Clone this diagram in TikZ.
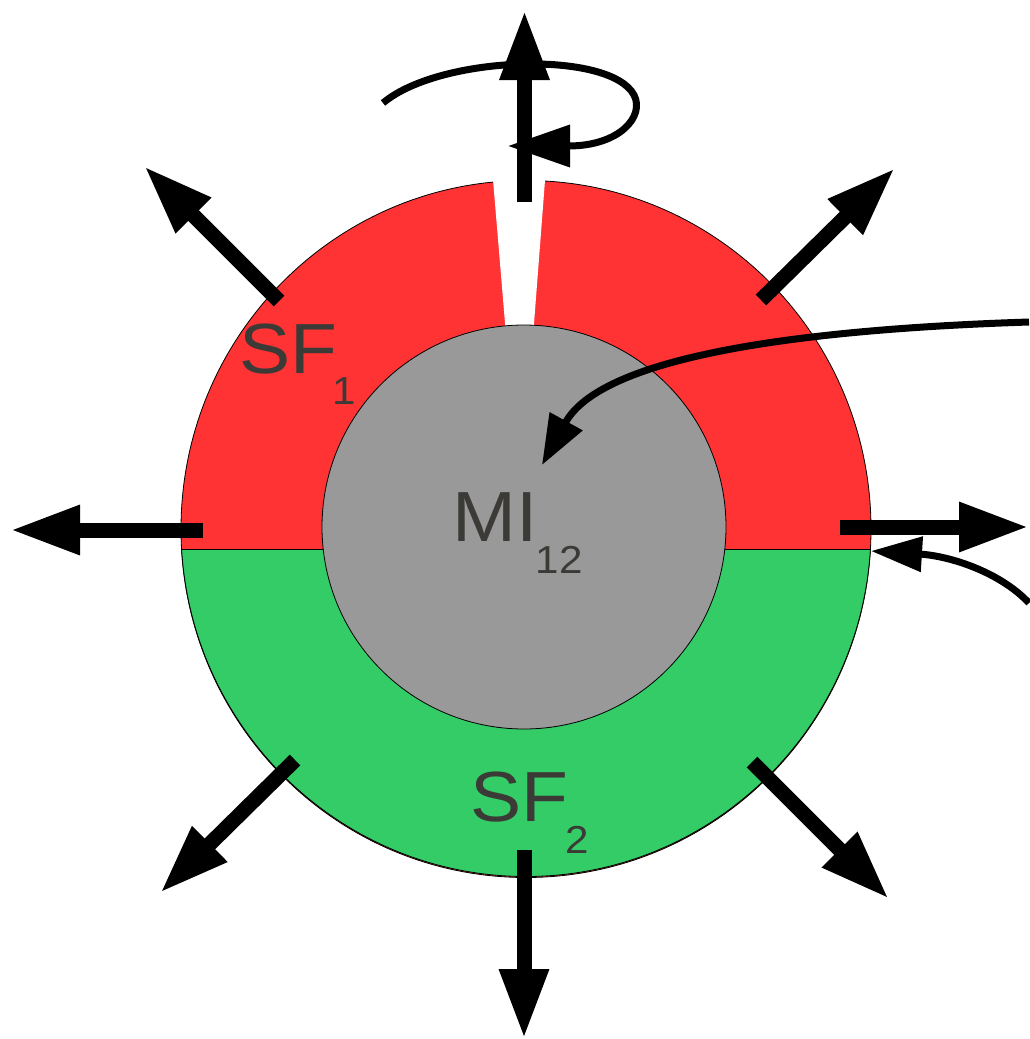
\documentclass[tikz,border=0pt]{standalone}
\usepackage{fontspec}
\setmainfont{Liberation Sans}
\usepackage{graphicx}
\usetikzlibrary{arrows.meta}
\definecolor{ringred}{HTML}{FF3333}
\definecolor{ringgreen}{HTML}{33CC66}
\definecolor{coregray}{HTML}{999999}
\definecolor{labelgray}{HTML}{3B3A36}
\newcommand{\biglbl}[1]{\scalebox{1.08}[1]{\fontsize{71}{71}\selectfont #1}}
\newcommand{\sublbl}[1]{\scalebox{1.08}[1]{\fontsize{39}{39}\selectfont #1}}
\begin{document}
\begin{tikzpicture}[x=1pt,y=-1pt,
  bigarrow/.style={line width=15pt, -{Triangle[length=70pt,width=46pt]}},
  curvearrow/.style={line width=7pt, -{Triangle[length=50pt,width=36pt]}},
  rotarrow/.style={line width=7pt, -{Triangle[length=62pt,width=41pt]}},
  lbl/.style={anchor=base west, inner sep=0pt, text=labelgray},
  thinline/.style={draw=black, line width=0.8pt}
]
\useasboundingbox (0,0) rectangle (1029,1039);
% ring
\fill[ringred, thinline] (526,529) ellipse[x radius=345, y radius=348.5];
\begin{scope}
  \clip (0,549.5) rectangle (1029,1039);
  \fill[ringgreen, thinline] (526,528) ellipse[x radius=345, y radius=348.5];
\end{scope}
\draw[thinline] (181.6,549.5) -- (870.4,549.5);
% gap in the red ring
\fill[white] (492.2,170) -- (545.8,170) -- (533.5,330) -- (505.6,330) -- cycle;
% core
\node[circle, fill=coregray, thinline, minimum size=404pt, inner sep=0pt] (core) at (524,527) {};
% labels
\node[lbl] (sf1) at (239,373) {\biglbl{SF}};
\node[lbl] (sf1sub) at (332,404) {\sublbl{1}};
\node[lbl] (mi) at (452.5,541) {\biglbl{MI}};
\node[lbl] (misub) at (535.5,573) {\sublbl{12}};
\node[lbl] (sf2) at (470,821) {\biglbl{SF}};
\node[lbl] (sf2sub) at (565.5,853) {\sublbl{2}};
% coordinates
\coordinate (rotS) at (383,103);
\coordinate (rotE) at (508,146);
\coordinate (c1s) at (1029,322);
\coordinate (c1e) at (542,465);
\coordinate (c2s) at (1029,603);
\coordinate (c2e) at (871,551);
\coordinate (tT) at (524.5,202);  \coordinate (hT) at (524.5,10);
\coordinate (tR) at (840,527);    \coordinate (hR) at (1029,527);
\coordinate (tL) at (203,530);    \coordinate (hL) at (10,530);
\coordinate (tB) at (524,850);    \coordinate (hB) at (524,1039);
\coordinate (tNW) at (279,301);   \coordinate (hNW) at (144,166);
\coordinate (tNE) at (761,300);   \coordinate (hNE) at (895,168);
\coordinate (tSW) at (295,760);   \coordinate (hSW) at (160,893);
\coordinate (tSE) at (752,762);   \coordinate (hSE) at (889,899);
% curved arrows
\draw[rotarrow] (rotS) .. controls (440,55) and (610,50) .. (634,95)
                       .. controls (645,116) and (620,146) .. (rotE);
\draw[curvearrow] (c1s) .. controls (780,330) and (600,360) .. (c1e);
\draw[curvearrow, -{Triangle[length=51pt,width=34pt]}] (c2s) .. controls (1000,572) and (950,556) .. (c2e);
% radial arrows
\draw[bigarrow] (tT) -- (hT);
\draw[bigarrow] (tR) -- (hR);
\draw[bigarrow] (tL) -- (hL);
\draw[bigarrow] (tB) -- (hB);
\draw[bigarrow] (tNW) -- (hNW);
\draw[bigarrow] (tNE) -- (hNE);
\draw[bigarrow] (tSW) -- (hSW);
\draw[bigarrow] (tSE) -- (hSE);
\end{tikzpicture}
\end{document}
